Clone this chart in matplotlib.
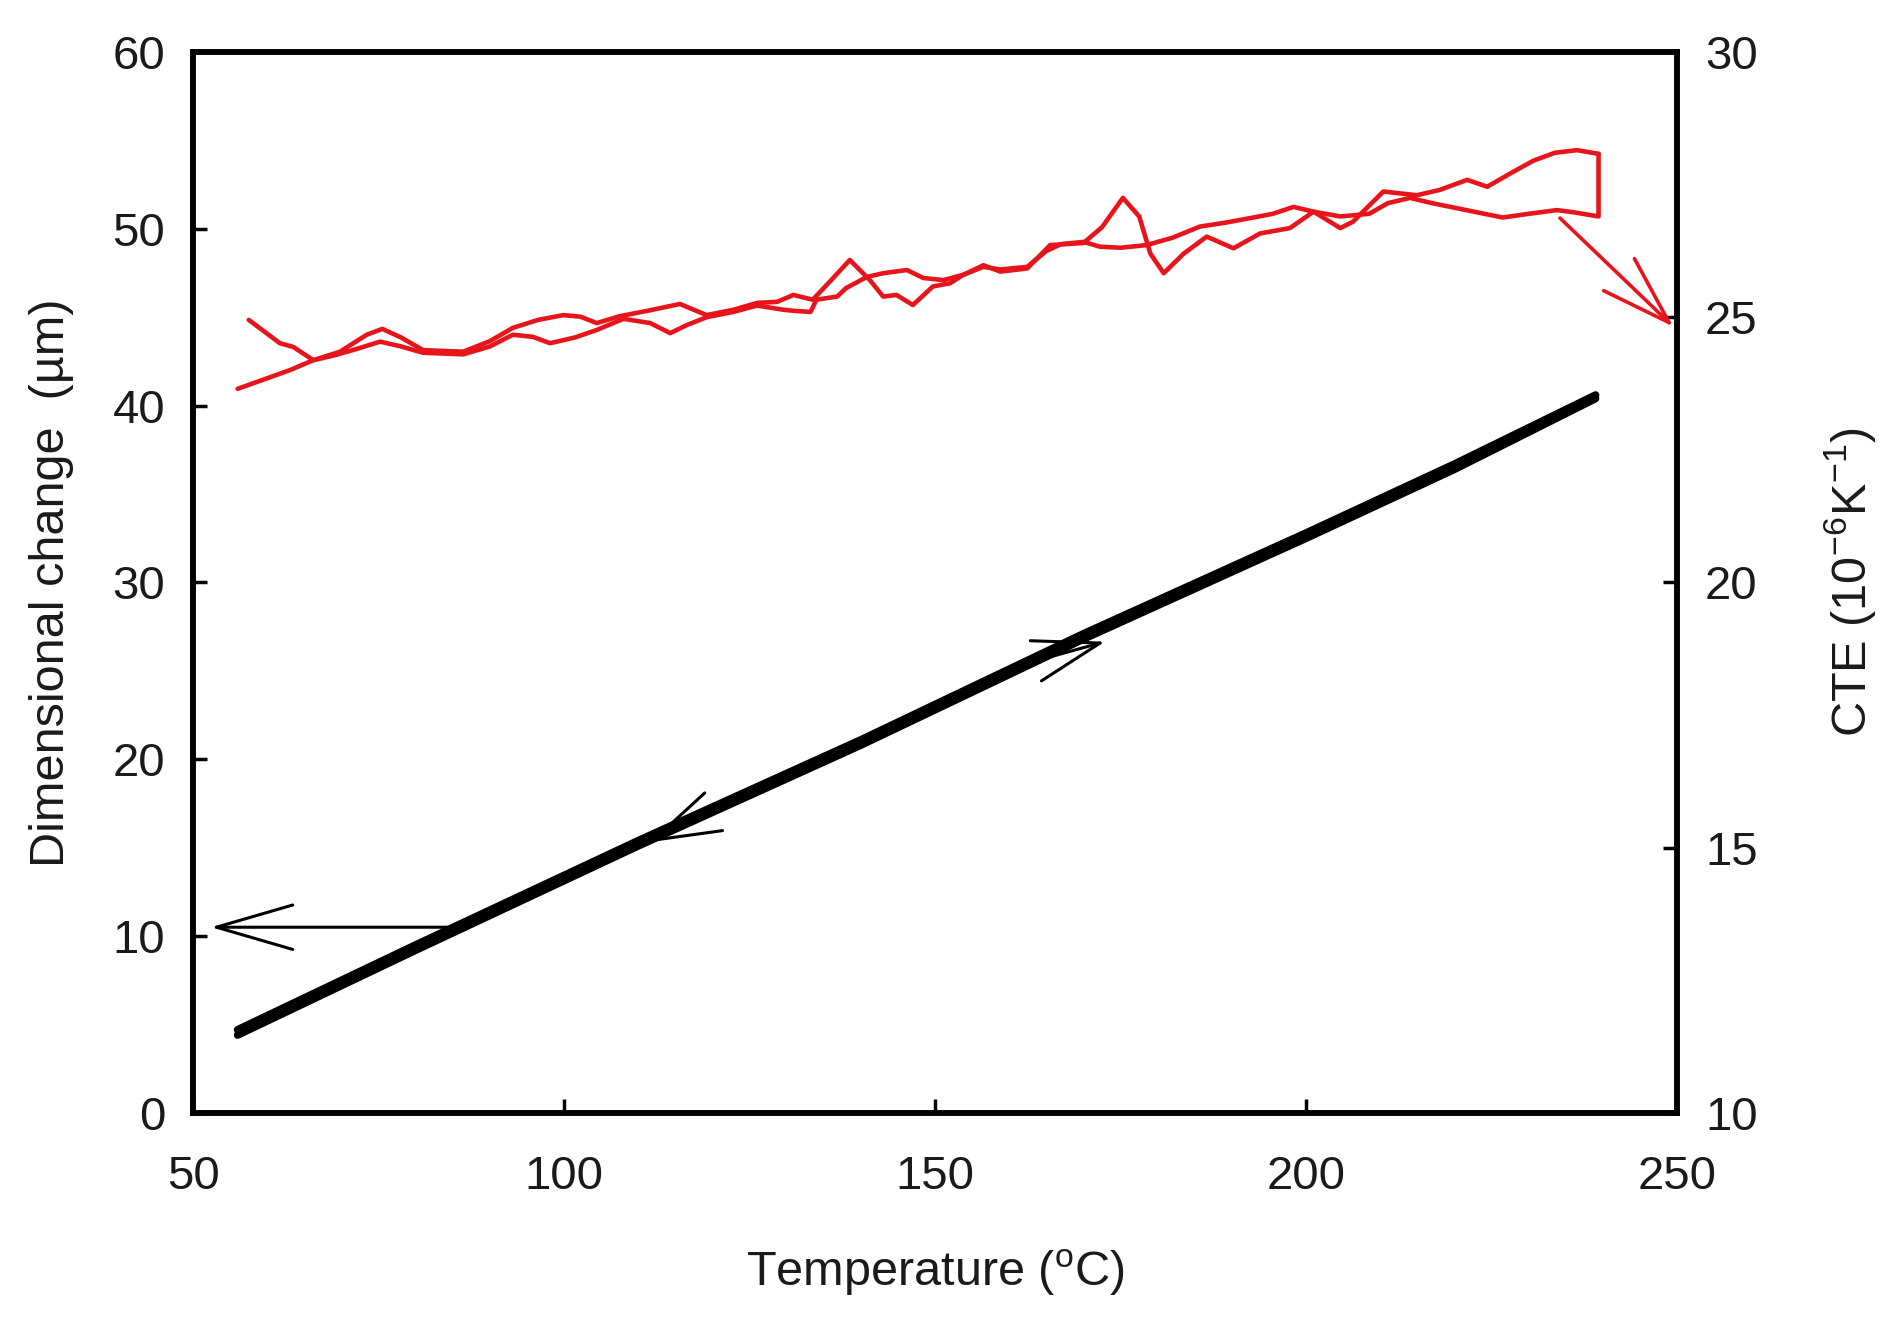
import matplotlib
matplotlib.use("Agg")
import matplotlib.pyplot as plt

plt.rcParams['font.family'] = ['Liberation Sans', 'DejaVu Sans']
plt.rcParams['mathtext.fontset'] = 'custom'
plt.rcParams['mathtext.rm'] = 'Liberation Sans'
plt.rcParams['mathtext.it'] = 'Liberation Sans'
plt.rcParams['mathtext.bf'] = 'Liberation Sans:bold'

# ---- Data ----
# Dimensional change (um) vs temperature (degC): heating and cooling
dim_temp = [56.0, 80.0, 110.0, 140.0, 170.0, 200.0, 220.0, 239.0]
dim_heat = [4.4, 9.2, 15.1, 20.8, 26.8, 32.5, 36.4, 40.4]
dim_cool = [4.7, 9.5, 15.4, 21.1, 27.1, 32.8, 36.7, 40.6]

# CTE (1e-6/K) heating branch
cte_heat_temp = [56.0, 60.0, 63.0, 66.2, 69.8, 73.4, 75.5, 78.0, 81.0, 86.4, 90.0, 93.1,
                 96.5, 99.9, 102.2, 104.4, 107.5, 111.2, 115.6, 119.2, 122.8, 126.0,
                 128.7, 130.9, 133.5, 136.0, 138.5, 141.2, 143.0, 144.8, 147.0, 149.7,
                 152.0, 153.8, 156.5, 158.8, 162.4, 165.5, 170.0, 172.5, 175.3, 177.5,
                 179.0, 180.8, 183.5, 186.6, 190.2, 193.8, 197.8, 201.0, 204.6, 206.3,
                 210.4, 214.9, 218.0, 221.7, 224.4, 227.5, 230.6, 233.5, 236.5, 239.4]
cte_heat = [23.65, 23.85, 24.00, 24.19, 24.35, 24.67, 24.78, 24.62, 24.38, 24.35, 24.55, 24.80,
            24.95, 25.04, 25.01, 24.89, 25.02, 25.12, 25.25, 25.04, 25.14, 25.27,
            25.29, 25.42, 25.33, 25.70, 26.08, 25.70, 25.39, 25.42, 25.23, 25.58,
            25.64, 25.80, 25.98, 25.86, 25.92, 26.36, 26.40, 26.70, 27.25, 26.90,
            26.20, 25.83, 26.20, 26.52, 26.30, 26.58, 26.68, 26.99, 26.68, 26.80,
            27.37, 27.30, 27.40, 27.59, 27.46, 27.71, 27.95, 28.10, 28.15, 28.08]

# CTE cooling branch (from 239 degC back down)
cte_cool_temp = [239.4, 239.4, 236.0, 233.8, 230.0, 226.5, 224.0, 220.5, 217.0, 214.0, 211.0,
                 208.5, 204.6, 201.0, 198.3, 195.5, 192.5, 189.0, 185.7, 182.0, 178.5,
                 175.0, 172.2, 170.0, 167.0, 165.0, 162.4, 158.8, 156.5, 153.8, 151.1,
                 148.4, 146.2, 143.0, 140.8, 138.0, 136.8, 134.0, 133.2, 131.0, 129.6,
                 126.0, 122.8, 119.2, 116.5, 114.3, 111.6, 108.0, 104.4, 101.5, 98.1,
                 95.8, 93.1, 90.0, 86.4, 81.0, 78.0, 75.2, 72.0, 69.0, 66.2, 63.5, 61.7, 57.5]
cte_cool = [28.08, 26.90, 26.98, 27.02, 26.95, 26.88, 26.95, 27.05, 27.15, 27.25, 27.15,
            26.95, 26.90, 26.99, 27.08, 26.95, 26.87, 26.78, 26.71, 26.50, 26.36,
            26.31, 26.33, 26.42, 26.38, 26.25, 25.95, 25.90, 25.95, 25.80, 25.70,
            25.74, 25.89, 25.83, 25.76, 25.55, 25.39, 25.33, 25.10, 25.12, 25.14,
            25.22, 25.10, 25.00, 24.85, 24.70, 24.89, 24.97, 24.76, 24.62, 24.51,
            24.63, 24.67, 24.45, 24.30, 24.33, 24.45, 24.54, 24.40, 24.28, 24.19, 24.44, 24.51, 24.95]

x_ticks = [50, 100, 150, 200, 250]
y_left_ticks = [0, 10, 20, 30, 40, 50, 60]
y_right_ticks = [10, 15, 20, 25, 30]

# annotation arrows: (tail, head)
arrow_left_axis = ((84.5, 10.5), (52.4, 10.5))
arrow_cool = ((120.0, 17.0), (111.4, 15.3))
arrow_heat = ((163.0, 25.5), (172.9, 26.65))
arrow_right_axis = ((234.2, 26.87), (249.5, 24.82))

TXT = '#1a1a1a'
RED = '#e8141c'
FS = 34

fig = plt.figure(figsize=(18.93, 13.17), dpi=100)
ax = fig.add_axes([0.102, 0.155, 0.784, 0.8055])
ax2 = ax.twinx()

# black dimensional change lines
ax.plot(dim_temp, dim_heat, color='black', lw=5.5, solid_capstyle='round',
        solid_joinstyle='round', zorder=3)
ax.plot(dim_temp, dim_cool, color='black', lw=5.5, solid_capstyle='round',
        solid_joinstyle='round', zorder=3)

# red CTE lines
ax2.plot(cte_heat_temp, cte_heat, color=RED, lw=3.3, solid_joinstyle='round',
         solid_capstyle='round', zorder=3)
ax2.plot(cte_cool_temp, cte_cool, color=RED, lw=3.3, solid_joinstyle='round',
         solid_capstyle='round', zorder=3)

ax.set_xlim(50, 250)
ax.set_ylim(0, 60)
ax2.set_ylim(10, 30)
ax.set_xticks(x_ticks)
ax.set_yticks(y_left_ticks)
ax2.set_yticks(y_right_ticks)

for a in (ax, ax2):
    for s in a.spines.values():
        s.set_linewidth(4)
        s.set_color('black')

ax.tick_params(axis='both', direction='in', length=10, width=2.5, labelsize=FS,
               labelcolor=TXT, top=False, right=False)
ax.tick_params(axis='x', pad=30)
ax.tick_params(axis='y', pad=20)
ax2.tick_params(axis='y', direction='in', length=10, width=2.5, labelsize=FS,
                labelcolor=TXT, pad=20)

ax.set_xlabel('Temperature ($\\mathregular{^{o}}$C)', fontsize=35, color=TXT, labelpad=35)
ax.set_ylabel('Dimensional change  (\u00b5m)', fontsize=35, color=TXT, labelpad=28)
ax2.set_ylabel('CTE (10$\\mathregular{^{-6}}$K$\\mathregular{^{-1}}$)', fontsize=35,
               color=TXT, labelpad=46, rotation=90)

blk = dict(arrowstyle='->,head_length=5.5,head_width=1.6', mutation_scale=10,
           color='black', lw=2.2, shrinkA=0, shrinkB=0)
ax.annotate('', xy=arrow_left_axis[1], xytext=arrow_left_axis[0], arrowprops=blk, zorder=4)
blk2 = dict(arrowstyle='->,head_length=4.8,head_width=1.5', mutation_scale=10,
            color='black', lw=2.2, shrinkA=0, shrinkB=0)
ax.annotate('', xy=arrow_cool[1], xytext=arrow_cool[0], arrowprops=blk2, zorder=4)
ax.annotate('', xy=arrow_heat[1], xytext=arrow_heat[0], arrowprops=blk2, zorder=4)
red = dict(arrowstyle='->,head_length=5.0,head_width=1.6', mutation_scale=10,
           color=RED, lw=2.6, shrinkA=0, shrinkB=0)
ax2.annotate('', xy=arrow_right_axis[1], xytext=arrow_right_axis[0], arrowprops=red,
             zorder=4, annotation_clip=False)

fig.savefig('out.png', dpi=100, facecolor='white')
